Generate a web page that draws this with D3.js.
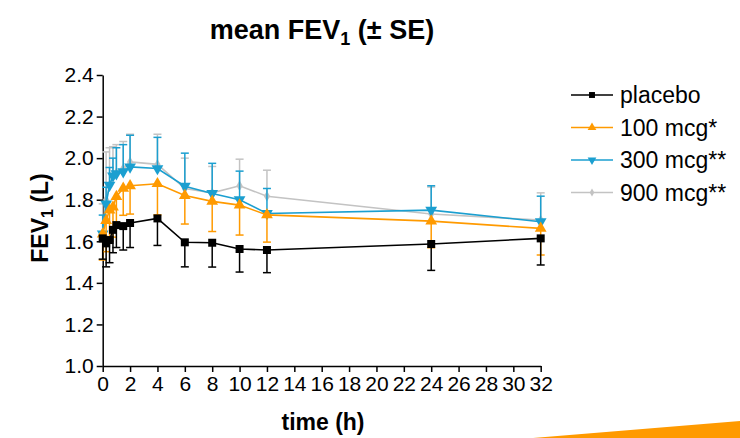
<!DOCTYPE html>
<html>
<head>
<meta charset="utf-8">
<script src="https://cdn.jsdelivr.net/npm/d3@7"></script>
<style>
  body { margin: 0; background: #fff; }
  svg { display: block; font-family: "Liberation Sans", Arial, sans-serif; }
</style>
</head>
<body>
<svg width="740" height="438"></svg>
<script>
const times = [0, 0.25, 0.5, 0.75, 1, 1.5, 2, 4, 6, 8, 10, 12, 24, 32];

const placebo   = [1.614, 1.59, 1.606, 1.655, 1.678, 1.673, 1.688, 1.71, 1.595, 1.593, 1.563, 1.558, 1.587, 1.614];
const placeboSE = [0.10, 0.113, 0.109, 0.11, 0.108, 0.115, 0.118, 0.13, 0.118, 0.117, 0.111, 0.109, 0.127, 0.128];

const dose100   = [1.635, 1.70, 1.75, 1.765, 1.815, 1.855, 1.867, 1.877, 1.82, 1.792, 1.774, 1.727, 1.697, 1.662];
const dose100SE = [0.125, 0.15, 0.15, 0.145, 0.145, 0.13, 0.136, 0.15, 0.137, 0.145, 0.144, 0.131, 0.128, 0.128];

const dose300   = [1.635, 1.78, 1.87, 1.915, 1.925, 1.935, 1.958, 1.95, 1.865, 1.83, 1.80, 1.734, 1.75, 1.694];
const dose300SE = [0.091, 0.08, 0.085, 0.085, 0.125, 0.13, 0.152, 0.15, 0.159, 0.145, 0.1375, 0.12, 0.117, 0.123];

const dose900   = [1.64, 1.80, 1.87, 1.91, 1.93, 1.95, 1.982, 1.97, 1.854, 1.833, 1.867, 1.817, 1.731, 1.702];
const dose900SE = [0.14, 0.23, 0.18, 0.145, 0.135, 0.13, 0.133, 0.145, 0.146, 0.127, 0.128, 0.125, 0.13, 0.131];

const seriesNames = ["placebo", "100 mcg*", "300 mcg**", "900 mcg**"];
const xTicks = d3.range(0, 33, 2);
const yTicks = [1.0, 1.2, 1.4, 1.6, 1.8, 2.0, 2.2, 2.4];

// drawing order: grey at the back, placebo on top
const series = [
  { name: seriesNames[3], values: dose900, se: dose900SE, color: "#c3c3c3", symbol: d3.symbolDiamond, dir: -1, size: 34 },
  { name: seriesNames[2], values: dose300, se: dose300SE, color: "#1b9fd0", symbol: "down", dir: -1, size: 60 },
  { name: seriesNames[1], values: dose100, se: dose100SE, color: "#ff9a00", symbol: d3.symbolTriangle, dir: 1, size: 60 },
  { name: seriesNames[0], values: placebo, se: placeboSE, color: "#000000", symbol: d3.symbolSquare, dir: 1, size: 64 },
];

const svg = d3.select("svg");
const x = d3.scaleLinear().domain([0, 32]).range([102.7, 540.7]);
const y = d3.scaleLinear().domain([1.0, 2.4]).range([366, 75]);

const symbolPath = (s, size) =>
  s === "down"
    ? d3.symbol(d3.symbolTriangle, size)() // rotated later
    : d3.symbol(s, size)();

// orange wedge bottom right
svg.append("path")
  .attr("d", "M533,438 L740,421 L740,438 Z")
  .attr("fill", "#ff9a00");

// title
const title = svg.append("text")
  .attr("x", 322).attr("y", 39)
  .attr("text-anchor", "middle")
  .attr("font-size", 27).attr("font-weight", "bold");
title.append("tspan").text("mean FEV");
title.append("tspan").attr("font-size", 18).attr("dy", 6).text("1");
title.append("tspan").attr("dy", -6).text(" (\u00b1 SE)");

// axes
const yAxis = svg.append("g")
  .attr("transform", "translate(102.7,0)")
  .call(d3.axisLeft(y).tickValues(yTicks).tickFormat(d3.format(".1f")).tickSize(6).tickSizeOuter(0));
const xAxis = svg.append("g")
  .attr("transform", "translate(0,366)")
  .call(d3.axisBottom(x).tickValues(xTicks).tickSize(6).tickSizeOuter(0));

[yAxis, xAxis].forEach(g => {
  g.select(".domain").attr("stroke", "#000").attr("stroke-width", 1.5);
  g.selectAll(".tick line").attr("stroke", "#000").attr("stroke-width", 1.5);
  g.selectAll(".tick text").attr("font-size", 21).attr("fill", "#000")
    .attr("font-family", "Liberation Sans, Arial, sans-serif");
});
yAxis.selectAll(".tick text").attr("x", -9);
xAxis.selectAll(".tick text").attr("y", 10);

// axis titles
const yl = svg.append("text")
  .attr("transform", "translate(48,218) rotate(-90)")
  .attr("text-anchor", "middle")
  .attr("font-size", 23).attr("font-weight", "bold");
yl.append("tspan").text("FEV");
yl.append("tspan").attr("font-size", 16).attr("dy", 5).text("1");
yl.append("tspan").attr("dy", -5).text(" (L)");

svg.append("text")
  .attr("x", 323).attr("y", 430)
  .attr("text-anchor", "middle")
  .attr("font-size", 23).attr("font-weight", "bold")
  .text("time (h)");

// data
const line = d3.line().x(d => x(d.t)).y(d => y(d.v));

series.forEach(s => {
  const pts = times.map((t, i) => ({ t, v: s.values[i], e: s.se[i] }));
  const g = svg.append("g");

  const bars = g.selectAll(".err").data(pts).join("g")
    .attr("stroke", s.color).attr("stroke-width", 1.5);
  bars.append("line")
    .attr("x1", d => x(d.t)).attr("x2", d => x(d.t))
    .attr("y1", d => y(d.v))
    .attr("y2", d => y(d.v - s.dir * d.e));
  bars.append("line")
    .attr("x1", d => x(d.t) - 4).attr("x2", d => x(d.t) + 4)
    .attr("y1", d => y(d.v - s.dir * d.e))
    .attr("y2", d => y(d.v - s.dir * d.e));

  g.append("path")
    .datum(pts)
    .attr("d", line)
    .attr("fill", "none")
    .attr("stroke", s.color)
    .attr("stroke-width", 1.6);

  g.selectAll(".mk").data(pts).join("path")
    .attr("d", symbolPath(s.symbol, s.size))
    .attr("transform", d => `translate(${x(d.t)},${y(d.v)})${s.symbol === "down" ? " rotate(180)" : ""}`)
    .attr("fill", s.color);
});

// legend
const legendRows = [series[3], series[2], series[1], series[0]];
const leg = svg.append("g").selectAll("g").data(legendRows).join("g")
  .attr("transform", (d, i) => `translate(0,${95 + i * 32.5})`);
leg.append("line")
  .attr("x1", 571).attr("x2", 613).attr("y1", 0).attr("y2", 0)
  .attr("stroke", d => d.color).attr("stroke-width", 1.6);
leg.append("path")
  .attr("d", d => symbolPath(d.symbol, d.size * 0.55))
  .attr("transform", d => `translate(592,0)${d.symbol === "down" ? " rotate(180)" : ""}`)
  .attr("fill", d => d.color);
leg.append("text")
  .attr("x", 620).attr("y", 8)
  .attr("font-size", 23)
  .attr("fill", "#000")
  .text(d => d.name);
</script>
</body>
</html>
